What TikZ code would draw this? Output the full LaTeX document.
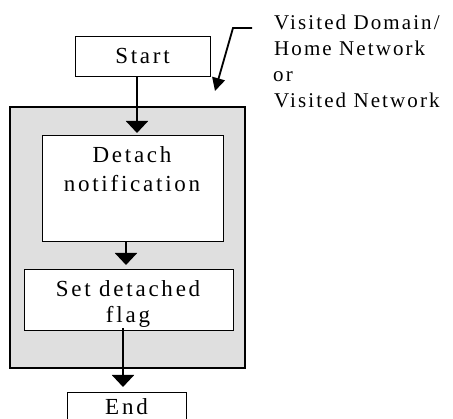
\documentclass[tikz,border=0pt]{standalone}
\usepackage{fontspec}
\setmainfont[LetterSpace=10]{Liberation Serif}
\newfontfamily\boxfont[LetterSpace=12]{Liberation Serif}
\usetikzlibrary{arrows.meta}
\begin{document}
\begin{tikzpicture}[x=1pt,y=-1pt,
  rbox/.style={draw=black, line width=1pt, fill=white, inner sep=0pt, outer sep=0pt, anchor=north west},
  txt/.style={anchor=base, inner sep=0pt, font=\boxfont\fontsize{23}{26}\selectfont},
  lbl/.style={anchor=base west, inner sep=0pt, font=\fontsize{21}{26}\selectfont},
  flow/.style={line width=2pt, -{Triangle[width=22pt,length=12pt]}},
]
\clip (0,0) rectangle (453,419);
% shaded area
\node[rbox, fill=gray!25, line width=1.6pt, minimum width=235pt, minimum height=261pt] (area) at (10,107) {};
% boxes
\node[rbox, minimum width=135pt, minimum height=40pt] (start) at (75,37) {};
\node[rbox, minimum width=181pt, minimum height=106pt] (detach) at (42,136) {};
\node[rbox, minimum width=209pt, minimum height=61pt] (setflag) at (24,270) {};
\node[rbox, minimum width=119pt, minimum height=40pt] (end) at (67,393) {};
% texts
\node[txt] (tstart) at (142.5,64) {Start};
\node[txt] (tdetach1) at (132,163) {Detach};
\node[txt] (tdetach2) at (132,192) {notification};
\node[txt] (tset1) at (128,297) {Set detached};
\node[txt] (tset2) at (128,323) {flag};
\node[txt] (tend) at (126.5,415) {End};
% label
\node[lbl] (l1) at (274,30) {Visited Domain/};
\node[lbl] (l2) at (274,56) {Home Network};
\node[lbl] (l3) at (273,82) {or};
\node[lbl] (l4) at (274,108) {Visited Network};
% connectors
\draw[flow, shorten >=3pt] ([xshift=-5.5pt]start.south) -- ([xshift=-5.5pt]start.south |- detach.north);
\draw[flow, shorten >=5pt] ([xshift=-6.5pt]detach.south) -- ([xshift=-6.5pt]detach.south |- setflag.north);
\draw[flow, shorten >=6pt] ([xshift=-5.5pt,yshift=3pt]setflag.south) -- ([xshift=-5.5pt]setflag.south |- end.north);
% pointer from label
\coordinate (pa) at (252,28);
\coordinate (pb) at (233,28);
\coordinate (pc) at (215,91);
\draw[line width=1.8pt, -{Triangle[width=13pt,length=13pt]}] (pa) -- (pb) -- (pc);
\end{tikzpicture}
\end{document}
